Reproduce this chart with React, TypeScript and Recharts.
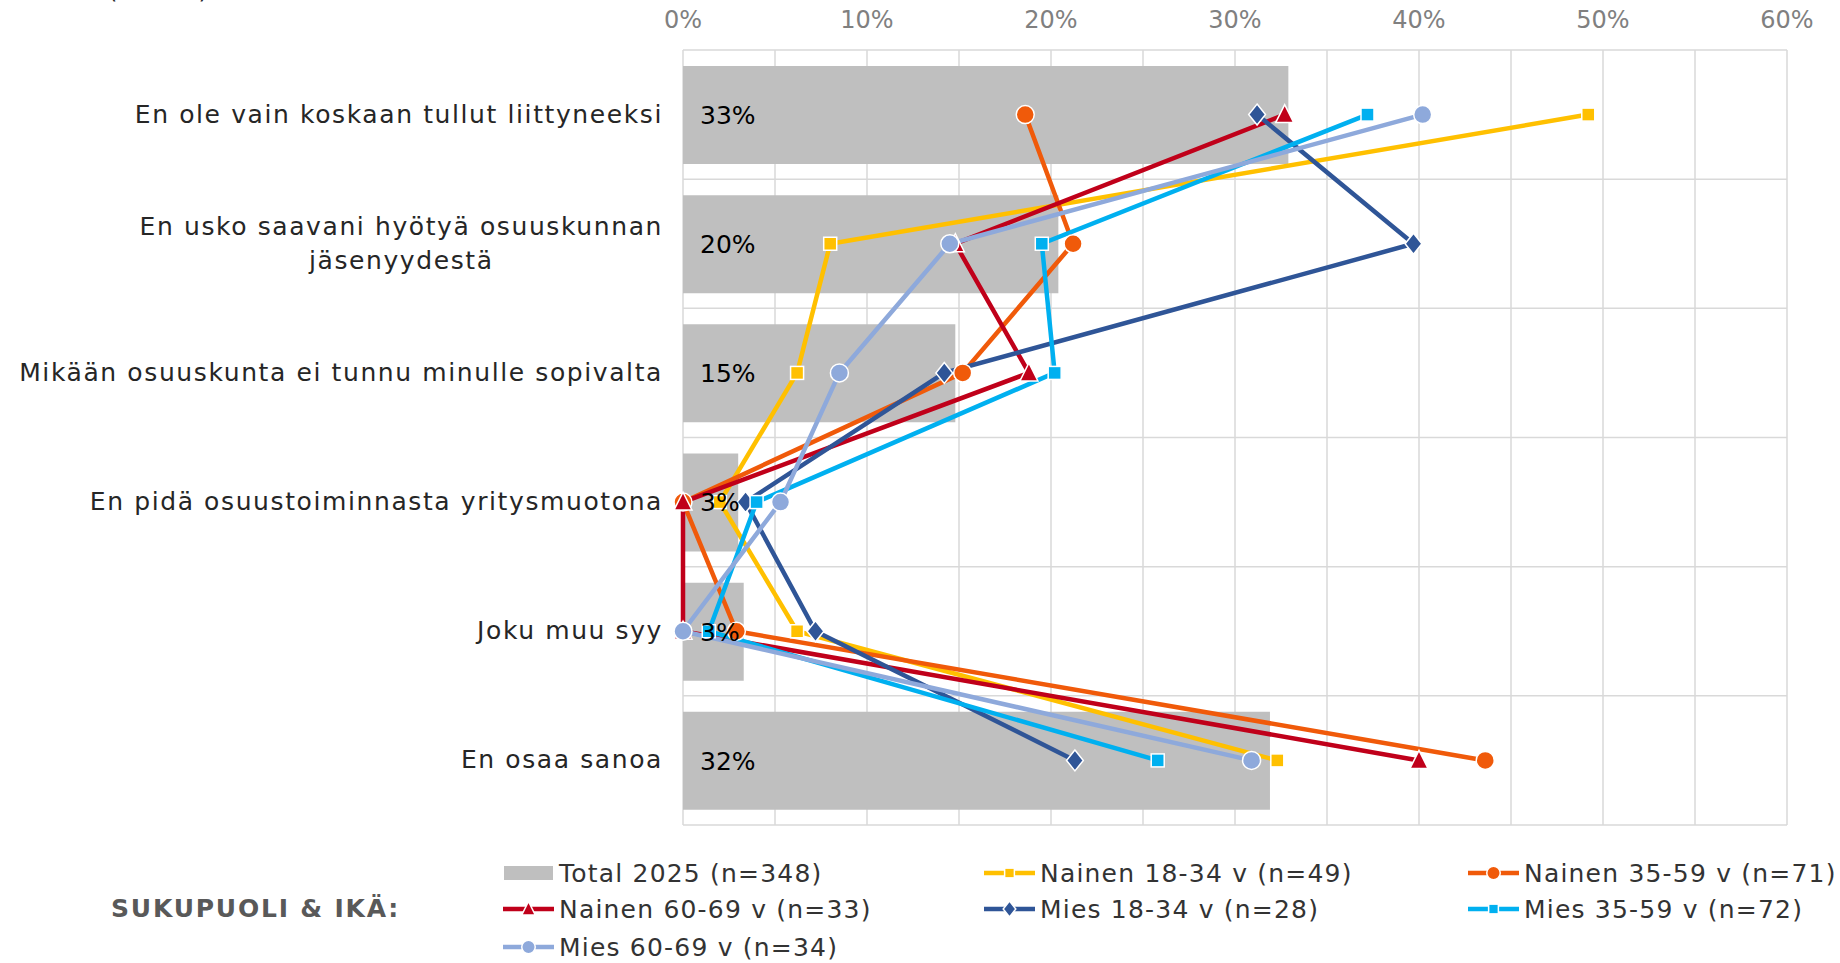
import React from "react";
import {
  Bar,
  CartesianGrid,
  ComposedChart,
  LabelList,
  Legend,
  Line,
  XAxis,
  YAxis,
} from "recharts";

const categories = [
  "En ole vain koskaan tullut liittyneeksi",
  "En usko saavani hyötyä osuuskunnan\njäsenyydestä",
  "Mikään osuuskunta ei tunnu minulle sopivalta",
  "En pidä osuustoiminnasta yritysmuotona",
  "Joku muu syy",
  "En osaa sanoa",
];

const total = [32.9, 20.4, 14.8, 3.0, 3.3, 31.9];
const nainen1834 = [49.2, 8.0, 6.2, 2.0, 6.2, 32.3];
const nainen3559 = [18.6, 21.2, 15.2, 0.0, 2.9, 43.6];
const nainen6069 = [32.7, 14.8, 18.8, 0.0, 0.0, 40.0];
const mies1834 = [31.2, 39.7, 14.2, 3.4, 7.2, 21.3];
const mies3559 = [37.2, 19.5, 20.2, 4.0, 1.4, 25.8];
const mies6069 = [40.2, 14.5, 8.5, 5.3, 0.0, 30.9];

const xTicks = [0, 5, 10, 15, 20, 25, 30, 35, 40, 45, 50, 55, 60];

const FONT = '"DejaVu Sans", Verdana, sans-serif';
const LS = 1.6; // letter spacing to get closer to Verdana widths

type Shape = "square" | "circle" | "triangle" | "diamond";

const series: { key: string; name: string; color: string; shape: Shape }[] = [
  { key: "n1834", name: "Nainen 18-34 v (n=49)", color: "#FFC000", shape: "square" },
  { key: "n3559", name: "Nainen 35-59 v (n=71)", color: "#F05A0A", shape: "circle" },
  { key: "n6069", name: "Nainen 60-69 v (n=33)", color: "#C0001A", shape: "triangle" },
  { key: "m1834", name: "Mies 18-34 v (n=28)", color: "#2F5597", shape: "diamond" },
  { key: "m3559", name: "Mies 35-59 v (n=72)", color: "#00B0F0", shape: "square" },
  { key: "m6069", name: "Mies 60-69 v (n=34)", color: "#8EA9DB", shape: "circle" },
];

const seriesValues: Record<string, number[]> = {
  n1834: nainen1834,
  n3559: nainen3559,
  n6069: nainen6069,
  m1834: mies1834,
  m3559: mies3559,
  m6069: mies6069,
};

const data = categories.map((name, i) => {
  const row: Record<string, string | number> = { name, total: total[i] };
  series.forEach((s) => (row[s.key] = seriesValues[s.key][i]));
  return row;
});

let measureCtx: CanvasRenderingContext2D | null = null;
const measure = (s: string, font: string) => {
  if (!measureCtx) measureCtx = document.createElement("canvas").getContext("2d");
  if (!measureCtx) return s.length * 15;
  measureCtx.font = font;
  return measureCtx.measureText(s).width + LS * s.length;
};

const Marker = ({ cx, cy, shape, color, scale = 1 }: any) => {
  if (cx == null || cy == null) return null;
  if (shape === "square") {
    const h = 6.5 * scale;
    return <rect x={cx - h} y={cy - h} width={h * 2} height={h * 2} fill={color} stroke="#fff" strokeWidth={1.5} />;
  }
  if (shape === "circle") {
    return <circle cx={cx} cy={cy} r={9 * scale} fill={color} stroke="#fff" strokeWidth={1.5} />;
  }
  if (shape === "triangle") {
    const s = scale;
    return (
      <polygon
        points={`${cx},${cy - 10 * s} ${cx - 9 * s},${cy + 8 * s} ${cx + 9 * s},${cy + 8 * s}`}
        fill={color}
        stroke="#fff"
        strokeWidth={1.5}
      />
    );
  }
  const d = 10.5 * scale;
  return (
    <polygon
      points={`${cx},${cy - d} ${cx + d * 0.8},${cy} ${cx},${cy + d} ${cx - d * 0.8},${cy}`}
      fill={color}
      stroke="#fff"
      strokeWidth={1.5}
    />
  );
};

const CategoryTick = ({ x, y, payload }: any) => {
  const lines = String(payload.value).split("\n");
  const lh = 34;
  const y0 = y - ((lines.length - 1) * lh) / 2;
  const common = { fontFamily: FONT, fontSize: 25, fill: "#262626", letterSpacing: LS };
  if (lines.length === 1) {
    return (
      <text x={x} y={y} dy={8} textAnchor="end" {...common}>
        {lines[0]}
      </text>
    );
  }
  const w = Math.max(...lines.map((l) => measure(l, `25px ${FONT}`)));
  return (
    <text x={x - w / 2} y={y0} textAnchor="middle" {...common}>
      {lines.map((l, i) => (
        <tspan key={i} x={x - w / 2} dy={i === 0 ? 8 : lh}>
          {l}
        </tspan>
      ))}
    </text>
  );
};

const LegendIcon = ({ color, shape }: { color: string; shape?: Shape }) => (
  <svg width={53} height={24} style={{ display: "block" }}>
    {shape ? (
      <>
        <line x1={1} y1={12} x2={52} y2={12} stroke={color} strokeWidth={4.5} />
        <Marker cx={26.5} cy={12} shape={shape} color={color} scale={0.75} />
      </>
    ) : (
      <rect x={2} y={5} width={49} height={14} fill="#BFBFBF" />
    )}
  </svg>
);

const legendItems = [{ name: "Total 2025 (n=348)", color: "#BFBFBF", shape: undefined as Shape | undefined }, ...series];
const colX = [502, 983, 1467];
const rowY = [48, 84, 122];

const ChartLegend = () => (
  <div style={{ position: "relative", width: 1840, height: 128, fontFamily: FONT }}>
    <div
      style={{
        position: "absolute",
        left: 111,
        top: rowY[1] - 16,
        height: 32,
        lineHeight: "32px",
        fontSize: 25,
        fontWeight: "bold",
        letterSpacing: 1.8,
        color: "#595959",
        whiteSpace: "nowrap",
      }}
    >
      SUKUPUOLI &amp; IKÄ:
    </div>
    {legendItems.map((it, i) => (
      <div
        key={it.name}
        style={{
          position: "absolute",
          left: colX[i % 3],
          top: rowY[Math.floor(i / 3)] - 16,
          height: 32,
          display: "flex",
          alignItems: "center",
          gap: 4,
          fontSize: 25,
          letterSpacing: 1.2,
          color: "#333333",
          whiteSpace: "nowrap",
        }}
      >
        <LegendIcon color={it.color} shape={it.shape} />
        <span>{it.name}</span>
      </div>
    ))}
  </div>
);

export default function App() {
  return (
    <div style={{ position: "absolute", left: 0, top: 0 }}>
      <ComposedChart
        width={1840}
        height={963}
        data={data}
        layout="vertical"
        margin={{ top: 0, right: 53, bottom: 10, left: 0 }}
      >
        <text x={108} y={-2} fontFamily={FONT} fontSize={24} fill="#262626">
          (n=348)
        </text>
        <CartesianGrid
          stroke="#D9D9D9"
          strokeWidth={1.5}
          horizontalCoordinatesGenerator={({ offset }: any) =>
            Array.from({ length: categories.length + 1 }, (_, i) => offset.top + (offset.height * i) / categories.length)
          }
        />
        <XAxis
          type="number"
          orientation="top"
          domain={[0, 60]}
          ticks={xTicks}
          interval={0}
          height={50}
          axisLine={false}
          tickLine={false}
          tickSize={6}
          tickMargin={16}
          tickFormatter={(v: number) => (v % 10 === 0 ? `${v}%` : "")}
          tick={{ fontFamily: FONT, fontSize: 24, fill: "#808080" }}
        />
        <YAxis
          type="category"
          dataKey="name"
          width={683}
          axisLine={false}
          tickLine={false}
          tickSize={6}
          tickMargin={14}
          interval={0}
          tick={<CategoryTick />}
        />
        <Bar dataKey="total" name="Total 2025 (n=348)" fill="#BFBFBF" barSize={98} isAnimationActive={false}>
          <LabelList
            dataKey="total"
            position="insideLeft"
            offset={17}
            formatter={(v: any) => `${Math.round(Number(v))}%`}
            style={{ fontFamily: FONT, fontSize: 25, fill: "#000" }}
          />
        </Bar>
        {series.map((s) => (
          <Line
            key={s.key}
            dataKey={s.key}
            name={s.name}
            stroke={s.color}
            strokeWidth={4.5}
            isAnimationActive={false}
            activeDot={false}
            dot={(p: any) => <Marker key={`${s.key}-${p.index}`} cx={p.cx} cy={p.cy} shape={s.shape} color={s.color} />}
          />
        ))}
        <Legend verticalAlign="bottom" content={<ChartLegend />} wrapperStyle={{ left: 0, width: 1840, height: 128 }} />
      </ComposedChart>
    </div>
  );
}
